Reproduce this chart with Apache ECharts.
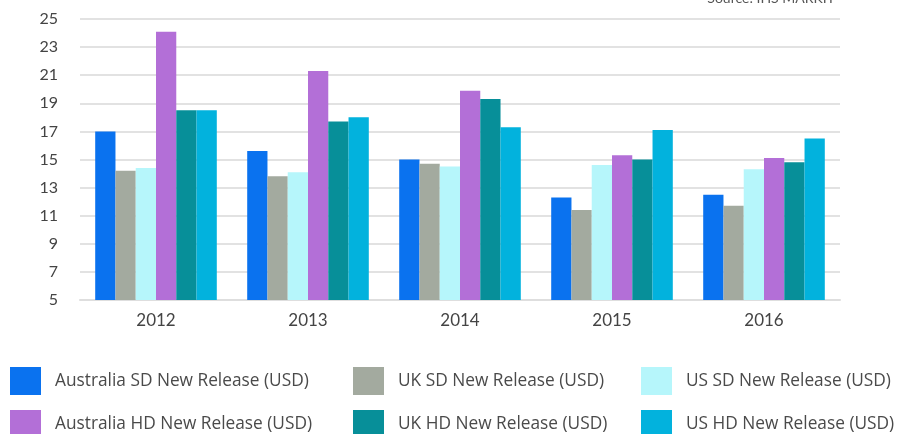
<!DOCTYPE html>
<html>
<head>
<meta charset="utf-8">
<script src="https://cdn.jsdelivr.net/npm/echarts@6/dist/echarts.min.js"></script>
<style>html,body{margin:0;padding:0;background:#fff}#c{width:897px;height:434px}</style>
</head>
<body>
<div id="c"></div>
<script>
const categories = ['2012', '2013', '2014', '2015', '2016'];
const seriesNames = [
  'Australia SD New Release (USD)',
  'UK SD New Release (USD)',
  'US SD New Release (USD)',
  'Australia HD New Release (USD)',
  'UK HD New Release (USD)',
  'US HD New Release (USD)'
];
const australiaSD = [17.0, 15.6, 15.0, 12.3, 12.5];
const ukSD = [14.2, 13.8, 14.7, 11.4, 11.7];
const usSD = [14.4, 14.1, 14.5, 14.6, 14.3];
const australiaHD = [24.1, 21.3, 19.9, 15.3, 15.1];
const ukHD = [18.5, 17.7, 19.3, 15.0, 14.8];
const usHD = [18.5, 18.0, 17.3, 17.1, 16.5];
const colors = ['#0a72ef', '#a3aa9f', '#b6f6fb', '#b36fd7', '#078f99', '#02b2dd'];
const values = [australiaSD, ukSD, usSD, australiaHD, ukHD, usHD];

const font = 'Lato, "Noto Sans", sans-serif';
const legendFont = '"Open Sans", Lato, sans-serif';
const chart = echarts.init(document.getElementById('c'));
const legendLefts = [10, 353, 641];
const legendTops = [367, 410];
const legends = seriesNames.map((n, i) => ({
  left: legendLefts[i % 3], top: legendTops[Math.floor(i / 3)],
  orient: 'horizontal', itemWidth: 31, itemHeight: 28, padding: 0,
  icon: 'rect', selectedMode: false, data: [n],
  textStyle: { fontSize: 17.3, color: '#4a4a4a', fontFamily: legendFont, padding: [0, 0, 0, 9] }
}));
chart.setOption({
  animation: false,
  color: colors,
  graphic: [{
    type: 'text', right: 62, top: -9,
    style: { text: 'Source: IHS MARKIT', fontSize: 14, fill: '#555', fontFamily: font }
  }],
  grid: { left: 80, right: 57, top: 19, bottom: 134, containLabel: false },
  legend: legends,
  xAxis: {
    type: 'category', data: categories,
    axisLine: { show: true, lineStyle: { color: '#dedede', width: 2 } },
    axisTick: { show: false },
    axisLabel: { fontSize: 17, color: '#444', fontFamily: font, margin: 12 }
  },
  yAxis: {
    type: 'value', min: 5, max: 25, interval: 2,
    axisLine: { show: false }, axisTick: { show: false },
    axisLabel: { fontSize: 16, color: '#444', fontFamily: font, margin: 22 },
    splitLine: { lineStyle: { color: '#e2e2e2', width: 2 } }
  },
  series: seriesNames.map((n, i) => ({
    name: n, type: 'bar', data: values[i],
    barGap: '0%', barCategoryGap: '20%'
  }))
});
</script>
</body>
</html>
